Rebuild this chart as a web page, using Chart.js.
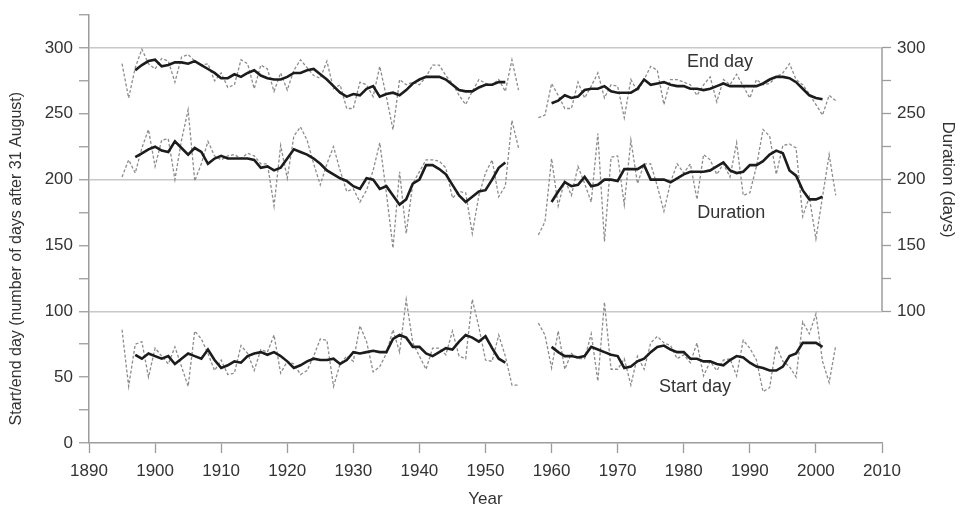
<!DOCTYPE html>
<html><head><meta charset="utf-8">
<script src="https://cdn.jsdelivr.net/npm/chart.js@4"></script>
<style>html,body{margin:0;padding:0;background:#fff;}</style>
</head><body>
<canvas id="c" width="960" height="512"></canvas>
<script>
const years = [1895,1896,1897,1898,1899,1900,1901,1902,1903,1904,
1905,1906,1907,1908,1909,1910,1911,1912,1913,1914,
1915,1916,1917,1918,1919,1920,1921,1922,1923,1924,
1925,1926,1927,1928,1929,1930,1931,1932,1933,1934,
1935,1936,1937,1938,1939,1940,1941,1942,1943,1944,
1945,1946,1947,1948,1949,1950,1951,1952,1953,1954,
1955,1956,1957,1958,1959,1960,1961,1962,1963,1964,
1965,1966,1967,1968,1969,1970,1971,1972,1973,1974,
1975,1976,1977,1978,1979,1980,1981,1982,1983,1984,
1985,1986,1987,1988,1989,1990,1991,1992,1993,1994,
1995,1996,1997,1998,1999,2000,2001,2002,2003];

const endAnnual = [288,262,285,299,288,284,292,290,274,293,
295,290,287,288,275,281,270,272,291,288,
269,287,284,267,281,268,283,291,285,279,
277,290,269,272,254,254,274,272,263,286,
263,238,276,272,274,272,278,287,287,279,
273,264,257,267,276,273,272,276,267,291,
268,null,null,247,249,273,264,254,254,274,
262,271,281,262,272,271,247,276,267,276,
286,283,257,276,276,274,272,264,272,278,
259,276,272,280,271,262,276,272,273,278,
281,288,276,272,265,257,249,264,260];

const endSmooth = [null,null,283,287,290,291,286,287,289,289,
288,290,287,284,281,277,277,280,278,281,
283,279,277,276,276,278,281,281,283,284,
280,276,271,266,263,265,264,269,271,263,
265,266,264,268,273,276,278,278,278,276,
272,268,267,267,270,272,272,274,274,null,
null,null,null,null,null,258,260,264,262,263,
268,269,269,271,267,266,266,266,269,276,
272,273,274,272,271,271,269,269,268,269,
271,273,271,271,271,271,271,273,276,278,
278,277,274,269,264,262,261,null,null];

const durAnnual = [202,215,205,224,238,210,230,231,200,230,
253,199,212,229,218,215,218,219,216,220,
218,212,212,180,226,201,233,240,230,212,
196,212,225,207,191,193,183,192,207,228,
190,148,206,159,197,206,215,215,214,209,
186,191,190,159,188,205,215,187,195,245,
224,null,null,158,168,216,180,200,188,210,
197,183,235,153,217,218,181,230,197,212,
212,195,176,198,212,205,212,185,219,215,
204,212,202,228,188,190,210,238,233,204,
226,227,224,172,187,155,187,219,188];

const durSmooth = [null,null,217,220,223,225,222,221,229,224,
219,224,221,212,216,218,216,216,216,216,
215,209,210,207,209,216,223,221,219,216,
212,207,204,201,199,195,193,201,200,193,
195,188,181,185,197,200,211,211,208,204,
196,188,183,187,191,192,200,209,213,null,
null,null,null,null,null,183,191,198,195,196,
202,195,196,200,200,199,208,208,208,211,
200,200,200,198,201,204,206,206,206,207,
210,213,207,205,206,211,211,214,219,222,
220,207,203,192,185,185,187,null,null];

const startAnnual = [86,43,75,77,50,72,66,60,73,58,
43,85,79,68,55,63,52,53,74,68,
55,71,69,82,53,62,60,52,55,66,
79,78,43,60,66,62,89,77,54,58,
68,86,69,109,76,66,56,72,72,67,
85,66,64,109,88,63,62,82,66,44,
44,null,null,91,82,57,85,56,68,64,
64,83,47,107,56,56,64,44,66,56,
76,81,76,74,64,67,61,76,51,62,
55,63,64,51,78,72,63,39,42,74,
62,58,50,92,83,98,62,46,74];

const startSmooth = [null,null,67,64,68,66,64,66,60,64,
68,66,64,71,63,57,59,62,61,66,
68,69,67,69,66,62,57,59,62,64,
63,63,64,60,63,69,68,69,70,69,
69,79,82,80,73,73,68,66,69,72,
71,77,82,80,77,81,72,64,61,null,
null,null,null,null,null,73,69,66,66,65,
66,73,71,69,67,66,57,58,62,64,
69,73,74,71,69,69,64,64,62,62,
60,59,63,66,65,61,58,57,55,55,
58,66,68,76,76,76,73,null,null];

const xTicks = [1890,1900,1910,1920,1930,1940,1950,1960,1970,1980,1990,2000,2010];
const yTickMarks = [0,25,50,75,100,125,150,175,200,225,250,275,300,325];
const yLeftLabels = [0,50,100,150,200,250,300];
const yRightLabels = [100,150,200,250,300];
const gridValues = [100,200,300];
const seriesLabels = [
  {text:'End day', x:1985.5, y:289},
  {text:'Duration', x:1987.2, y:175},
  {text:'Start day', x:1981.7, y:42.5}
];

const FONT = "'Liberation Sans', Arial, Helvetica, sans-serif";
const TXT = '#333333';
const AX = '#9c9c9c';
const GRID = '#c8c8c8';
const DOT = '#8c8c8c';
const SOLID = '#1c1c1c';

const pts = arr => years.map((yr, i) => ({x: yr, y: arr[i]}));
const smoothDs = (arr, axis) => ({data: pts(arr), yAxisID: axis, borderColor: SOLID, borderWidth: 2.6, pointRadius: 0, spanGaps: false, tension: 0});
const annualDs = (arr, axis) => ({data: pts(arr), yAxisID: axis, borderColor: DOT, borderWidth: 1.3, borderDash: [3, 2], pointRadius: 0, spanGaps: false, tension: 0});

const extras = {
  id: 'extras',
  afterDraw(chart) {
    const {ctx, chartArea: a, scales: {x, y, y2}} = chart;
    ctx.save();
    ctx.strokeStyle = AX; ctx.lineWidth = 1.5;
    ctx.beginPath();
    ctx.moveTo(a.right, y2.getPixelForValue(100));
    ctx.lineTo(a.right, y2.getPixelForValue(300));
    ctx.stroke();
    ctx.fillStyle = TXT;
    ctx.textAlign = 'center'; ctx.textBaseline = 'middle';
    ctx.font = '18px ' + FONT;
    seriesLabels.forEach(l => ctx.fillText(l.text, x.getPixelForValue(l.x), y.getPixelForValue(l.y)));
    ctx.font = '16px ' + FONT;
    ctx.save();
    ctx.translate(17, y.getPixelForValue(140));
    ctx.rotate(-Math.PI / 2);
    ctx.fillText('Start/end day (number of days after 31 August)', 0, 0);
    ctx.restore();
    ctx.font = '17px ' + FONT;
    ctx.save();
    ctx.translate(948, y2.getPixelForValue(200));
    ctx.rotate(Math.PI / 2);
    ctx.fillText('Duration (days)', 0, 0);
    ctx.restore();
    ctx.restore();
  }
};

const zeroPad = s => { s.paddingTop = 0; s.paddingBottom = 0; s.paddingLeft = 0; s.paddingRight = 0; };

new Chart(document.getElementById('c'), {
  type: 'line',
  data: {
    datasets: [
      smoothDs(endSmooth, 'y'), smoothDs(durSmooth, 'y2'), smoothDs(startSmooth, 'y'),
      annualDs(endAnnual, 'y'), annualDs(durAnnual, 'y2'), annualDs(startAnnual, 'y')
    ]
  },
  options: {
    responsive: false, animation: false, devicePixelRatio: 1,
    layout: {padding: {top: 15, left: 0, right: 0, bottom: 0}},
    plugins: {legend: {display: false}, tooltip: {enabled: false}},
    scales: {
      x: {
        type: 'linear', position: 'bottom', min: 1890, max: 2010,
        afterBuildTicks: s => { s.ticks = xTicks.map(v => ({value: v})); },
        afterFit: s => { s.height = 69; zeroPad(s); },
        ticks: {autoSkip: false, maxRotation: 0, padding: 8, color: TXT, font: {family: FONT, size: 17}, callback: v => String(v)},
        grid: {drawOnChartArea: false, tickLength: 10, tickColor: AX, tickWidth: 1.3},
        border: {color: AX, width: 1.5},
        title: {display: true, text: 'Year', color: TXT, font: {family: FONT, size: 17}, padding: {top: 0, bottom: 2}}
      },
      y: {
        position: 'left', min: 0, max: 325,
        afterBuildTicks: s => { s.ticks = yTickMarks.map(v => ({value: v})); },
        afterFit: s => { s.width = 89; zeroPad(s); },
        ticks: {padding: 6, color: TXT, font: {family: FONT, size: 17}, callback: v => yLeftLabels.includes(v) ? String(v) : ''},
        grid: {
          drawOnChartArea: true, tickLength: 10, tickWidth: 1.3, tickColor: AX, lineWidth: 1.5,
          color: c => (c.tick && gridValues.includes(c.tick.value)) ? GRID : 'rgba(0,0,0,0)'
        },
        border: {color: AX, width: 1.5}
      },
      y2: {
        position: 'right', min: 0, max: 325,
        afterBuildTicks: s => { s.ticks = yTickMarks.map(v => ({value: v})); },
        afterFit: s => { s.width = 78; zeroPad(s); },
        ticks: {padding: 6, color: TXT, font: {family: FONT, size: 17}, callback: v => yRightLabels.includes(v) ? String(v) : ''},
        grid: {
          drawOnChartArea: false, tickLength: 9, tickWidth: 1.3,
          tickColor: c => (c.tick && c.tick.value >= 100 && c.tick.value <= 300) ? AX : 'rgba(0,0,0,0)',
          color: 'rgba(0,0,0,0)'
        },
        border: {display: false}
      }
    }
  },
  plugins: [extras]
});
</script>
</body></html>
